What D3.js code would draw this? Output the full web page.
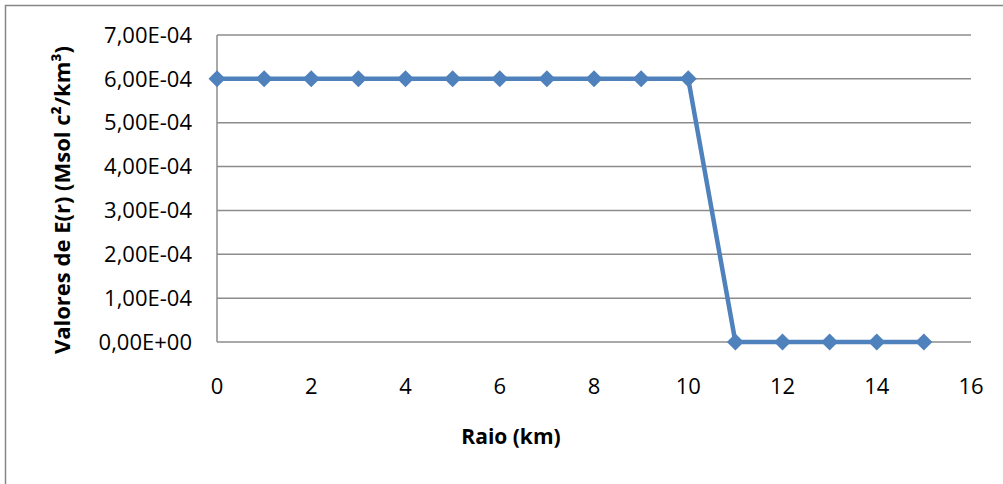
<!DOCTYPE html>
<html><head><meta charset="utf-8">
<script src="https://cdn.jsdelivr.net/npm/d3@7"></script>
<style>body{margin:0;background:#fff}svg{display:block}text{font-family:"Open Sans",sans-serif;fill:#000}</style>
</head><body><svg id="c" width="1003" height="484"></svg>
<script>
const radius = [0,1,2,3,4,5,6,7,8,9,10,11,12,13,14,15];
const energy = [6e-4,6e-4,6e-4,6e-4,6e-4,6e-4,6e-4,6e-4,6e-4,6e-4,6e-4,0,0,0,0,0];
const yTicks = [0,1e-4,2e-4,3e-4,4e-4,5e-4,6e-4,7e-4];
const xTicks = [0,2,4,6,8,10,12,14,16];
const fmtY = v => v===0 ? "0,00E+00" : (v/1e-4).toFixed(2).replace(".",",")+"E-04";

const svg = d3.select("#c");
svg.append("rect").attr("x",5.5).attr("y",5.5).attr("width",1010).attr("height",500)
  .attr("fill","#fff").attr("stroke","#868686").attr("stroke-width",1.5);

const x = d3.scaleLinear().domain([0,16]).range([217,971]);
const y = d3.scaleLinear().domain([0,7e-4]).range([342,35]);

svg.append("g").selectAll("line").data(yTicks).join("line")
  .attr("x1",217).attr("x2",971).attr("y1",d=>y(d)).attr("y2",d=>y(d))
  .attr("stroke","#8c8c8c").attr("stroke-width",1.5);
svg.append("line").attr("x1",217).attr("x2",217).attr("y1",35).attr("y2",342)
  .attr("stroke","#8c8c8c").attr("stroke-width",1.5);

svg.append("g").selectAll("text").data(yTicks).join("text")
  .attr("x",192).attr("y",d=>y(d)).attr("dy","0.35em").attr("text-anchor","end")
  .attr("font-size",22).text(fmtY);
svg.append("g").selectAll("text").data(xTicks).join("text")
  .attr("x",d=>x(d)).attr("y",386).attr("dy","0.35em").attr("text-anchor","middle")
  .attr("font-size",22).text(d=>d);

svg.append("text").attr("x",511).attr("y",437).attr("dy","0.35em").attr("text-anchor","middle")
  .attr("font-size",21).attr("font-weight","bold").text("Raio (km)");
svg.append("text").attr("transform","translate(62,200) rotate(-90)").attr("dy","0.35em")
  .attr("text-anchor","middle").attr("font-size",22).attr("font-weight","bold")
  .text("Valores de E(r) (Msol c²/km³)");

const pts = radius.map((r,i)=>[r,energy[i]]);
svg.append("path").datum(pts).attr("fill","none").attr("stroke","#4f81bd").attr("stroke-width",4.5)
  .attr("stroke-linejoin","round")
  .attr("d",d3.line().x(d=>x(d[0])).y(d=>y(d[1])));
const h = 8.5;
svg.append("g").selectAll("path").data(pts).join("path")
  .attr("transform",d=>`translate(${x(d[0])},${y(d[1])})`)
  .attr("d",`M0,${-h}L${h},0L0,${h}L${-h},0Z`).attr("fill","#4f81bd");
</script></body></html>
